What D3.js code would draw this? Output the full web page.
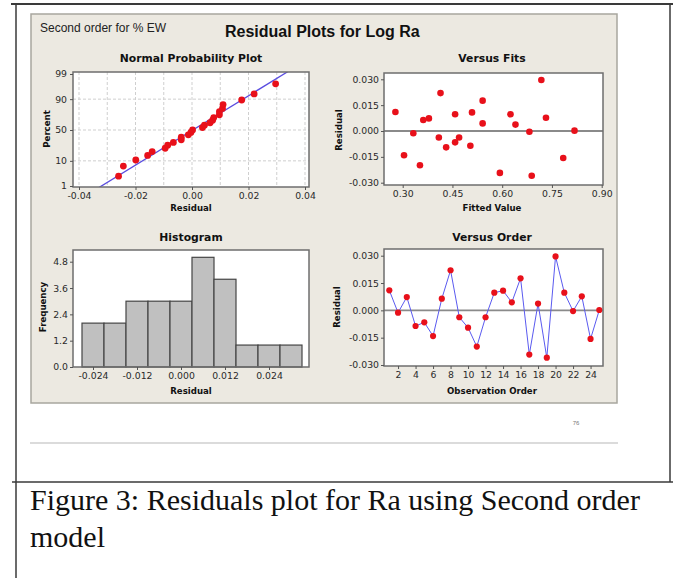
<!DOCTYPE html>
<html><head><meta charset="utf-8">
<script src="https://cdn.jsdelivr.net/npm/d3@7"></script>
<style>
html,body{margin:0;padding:0;background:#fff;}
svg{display:block;}
text{font-family:"Liberation Sans",Arial,sans-serif;}
</style></head>
<body>
<svg id="c" width="673" height="578"></svg>
<script>
// ---- data ----
const observation = d3.range(1, 26);
const residuals = [0.0110,-0.0013,0.0073,-0.0086,-0.0066,-0.0141,0.0064,0.0220,-0.0038,-0.0095,
                   -0.0199,-0.0038,0.0097,0.0108,0.0044,0.0176,-0.0243,0.0037,-0.0260,0.0296,
                   0.0097,-0.0004,0.0077,-0.0157,0.0002];
const fittedValues = [0.278,0.332,0.379,0.504,0.458,0.304,0.362,0.414,0.409,0.431,
                      0.352,0.470,0.458,0.509,0.541,0.541,0.593,0.640,0.689,0.718,
                      0.625,0.682,0.732,0.784,0.818];
const histMid = [-0.024,-0.018,-0.012,-0.006,0.000,0.006,0.012,0.018,0.024,0.030];
const histCount = [2,2,3,3,3,5,4,1,1,1];
const nppXTicks = [-0.04,-0.02,0.00,0.02,0.04];
const nppYTicks = [1,10,50,90,99];
const fitsXTicks = [0.30,0.45,0.60,0.75,0.90];
const resTicks = [-0.030,-0.015,0.000,0.015,0.030];
const histXTicks = [-0.024,-0.012,0.000,0.012,0.024];
const histYTicks = [0.0,1.2,2.4,3.6,4.8];
const orderTicks = [2,4,6,8,10,12,14,16,18,20,22,24];

// inverse normal CDF (Acklam)
function probit(p){
  const a=[-3.969683028665376e+01,2.209460984245205e+02,-2.759285104469687e+02,1.383577518672690e+02,-3.066479806614716e+01,2.506628277459239e+00];
  const b=[-5.447609879822406e+01,1.615858368580409e+02,-1.556989798598866e+02,6.680131188771972e+01,-1.328068155288572e+01];
  const c=[-7.784894002430293e-03,-3.223964580411365e-01,-2.400758277161838e+00,-2.549732539343734e+00,4.374664141464968e+00,2.938163982698783e+00];
  const d=[7.784695709041462e-03,3.224671290700398e-01,2.445134137142996e+00,3.754408661907416e+00];
  const pl=0.02425;
  let q,r;
  if(p<pl){q=Math.sqrt(-2*Math.log(p));return (((((c[0]*q+c[1])*q+c[2])*q+c[3])*q+c[4])*q+c[5])/((((d[0]*q+d[1])*q+d[2])*q+d[3])*q+1);}
  if(p>1-pl){q=Math.sqrt(-2*Math.log(1-p));return -(((((c[0]*q+c[1])*q+c[2])*q+c[3])*q+c[4])*q+c[5])/((((d[0]*q+d[1])*q+d[2])*q+d[3])*q+1);}
  q=p-0.5;r=q*q;
  return (((((a[0]*r+a[1])*r+a[2])*r+a[3])*r+a[4])*r+a[5])*q/(((((b[0]*r+b[1])*r+b[2])*r+b[3])*r+b[4])*r+1);
}

const fmtLocale = d3.formatLocale({decimal:".",thousands:",",grouping:[3],currency:["",""],minus:"-"});
const SANS = "DejaVu Sans, Verdana, sans-serif";
const svg = d3.select("#c");
svg.append("rect").attr("width",673).attr("height",578).attr("fill","#fff");

// page frame lines
const frame = svg.append("g").attr("stroke","#3a3a3a").attr("fill","none");
frame.append("line").attr("x1",11).attr("x2",673).attr("y1",4).attr("y2",4).attr("stroke-width",2);
frame.append("line").attr("x1",16).attr("x2",16).attr("y1",3).attr("y2",578).attr("stroke-width",1.5);
frame.append("line").attr("x1",670).attr("x2",670).attr("y1",3).attr("y2",482).attr("stroke-width",1.5);
frame.append("line").attr("x1",12).attr("x2",673).attr("y1",482).attr("y2",482).attr("stroke-width",1.5);

// Minitab panel
svg.append("rect").attr("x",31).attr("y",14).attr("width",586).attr("height",389)
  .attr("fill","#ece9e1").attr("stroke","#a8a69e").attr("stroke-width",1.5);

svg.append("text").attr("x",40).attr("y",32).attr("font-size",12).attr("fill","#222").text("Second order for % EW");
svg.append("text").attr("x",225).attr("y",37).attr("font-size",16).attr("font-weight","bold").attr("fill","#111").text("Residual Plots for Log Ra");

function panelTitle(x,y,t){
  svg.append("text").attr("x",x).attr("y",y).attr("text-anchor","middle").attr("font-size",10.8)
    .style("font-family",SANS).attr("font-weight","bold").attr("fill","#111").text(t);
}
function axisLabel(x,y,t,rot){
  const tx = svg.append("text").attr("text-anchor","middle").attr("font-size",8.6)
    .style("font-family",SANS).attr("font-weight","bold").attr("fill","#111").text(t);
  if(rot) tx.attr("transform",`translate(${x},${y}) rotate(-90)`); else tx.attr("x",x).attr("y",y);
}
function plotBox(x0,x1,y0,y1){
  svg.append("rect").attr("x",x0).attr("y",y0).attr("width",x1-x0).attr("height",y1-y0).attr("fill","#fff");
}
function boxBorder(x0,x1,y0,y1){
  svg.append("rect").attr("x",x0).attr("y",y0).attr("width",x1-x0).attr("height",y1-y0)
    .attr("fill","none").attr("stroke","#6e6e6e").attr("stroke-width",1.5);
}
function styleAxis(g){
  g.selectAll("path").remove();
  g.selectAll("line").attr("stroke","#555");
  g.selectAll("text").attr("font-size",9.3).attr("fill","#2a2a2a").style("font-family",SANS);
}

// ---------- Normal Probability Plot ----------
{
  const X0=73,X1=309,Y0=72,Y1=187;
  const x = d3.scaleLinear().domain([-0.04,0.04]).range([79,305]);
  const y = d3.scaleLinear().domain([probit(0.01),probit(0.99)]).range([186,74]);
  plotBox(X0,X1,Y0,Y1);
  const grid = svg.append("g").attr("stroke","#cfcfcf").attr("stroke-dasharray","3,2").attr("stroke-width",1);
  d3.range(-4,5).forEach(k=>{const v=k/100; grid.append("line").attr("x1",x(v)).attr("x2",x(v)).attr("y1",Y0).attr("y2",Y1);});
  [10,50,90].forEach(p=>grid.append("line").attr("x1",X0).attr("x2",X1).attr("y1",y(probit(p/100))).attr("y2",y(probit(p/100))));
  const clipId="nppclip";
  svg.append("clipPath").attr("id",clipId).append("rect").attr("x",X0).attr("y",Y0).attr("width",X1-X0).attr("height",Y1-Y0);
  const m = d3.mean(residuals), s = d3.deviation(residuals);
  const zs=[-3,3];
  svg.append("line").attr("clip-path",`url(#${clipId})`)
    .attr("x1",x(m+zs[0]*s)).attr("y1",y(zs[0])).attr("x2",x(m+zs[1]*s)).attr("y2",y(zs[1]))
    .attr("stroke","#5a4de0").attr("stroke-width",1.3);
  const sorted = residuals.slice().sort(d3.ascending);
  const n = sorted.length;
  svg.append("g").selectAll("circle").data(sorted).join("circle")
    .attr("cx",d=>x(d)).attr("cy",(d,i)=>y(probit((i+1-0.3)/(n+0.4)))).attr("r",3.4).attr("fill","#e8101a");
  boxBorder(X0,X1,Y0,Y1);
  styleAxis(svg.append("g").attr("transform",`translate(0,${Y1})`)
    .call(d3.axisBottom(x).tickValues(nppXTicks).tickFormat(fmtLocale.format(".2f")).tickSize(3).tickPadding(2)));
  styleAxis(svg.append("g").attr("transform",`translate(${X0},0)`)
    .call(d3.axisLeft(y).tickValues(nppYTicks.map(p=>probit(p/100))).tickFormat((d,i)=>nppYTicks[i]).tickSize(3).tickPadding(3)));
  panelTitle(191,62,"Normal Probability Plot");
  axisLabel(191,211,"Residual");
  axisLabel(50,129,"Percent",true);
}

// ---------- Versus Fits ----------
{
  const X0=384,X1=603,Y0=73,Y1=185;
  const x = d3.scaleLinear().domain([0.30,0.90]).range([402.7,601.7]);
  const y = d3.scaleLinear().domain([-0.03,0.03]).range([182.7,79.3]);
  plotBox(X0,X1,Y0,Y1);
  svg.append("line").attr("x1",X0).attr("x2",X1).attr("y1",y(0)).attr("y2",y(0)).attr("stroke","#8a8a8a").attr("stroke-width",1.8);
  svg.append("g").selectAll("circle").data(residuals).join("circle")
    .attr("cx",(d,i)=>x(fittedValues[i])).attr("cy",d=>y(d)).attr("r",3.3).attr("fill","#e8101a");
  boxBorder(X0,X1,Y0,Y1);
  styleAxis(svg.append("g").attr("transform",`translate(0,${Y1})`)
    .call(d3.axisBottom(x).tickValues(fitsXTicks).tickFormat(fmtLocale.format(".2f")).tickSize(3).tickPadding(2)));
  styleAxis(svg.append("g").attr("transform",`translate(${X0},0)`)
    .call(d3.axisLeft(y).tickValues(resTicks).tickFormat(fmtLocale.format(".3f")).tickSize(3).tickPadding(2)));
  panelTitle(492,62,"Versus Fits");
  axisLabel(492,211,"Fitted Value");
  axisLabel(342,130,"Residual",true);
}

// ---------- Histogram ----------
{
  const X0=73,X1=309,Y0=250,Y1=367;
  const x = d3.scaleLinear().domain([-0.024,0.024]).range([93,269]);
  const y = d3.scaleLinear().domain([0,4.8]).range([Y1,261.7]);
  plotBox(X0,X1,Y0,Y1);
  svg.append("g").selectAll("rect").data(histMid).join("rect")
    .attr("x",d=>x(d-0.003)).attr("width",d=>x(d+0.003)-x(d-0.003))
    .attr("y",(d,i)=>y(histCount[i])).attr("height",(d,i)=>y(0)-y(histCount[i]))
    .attr("fill","#c0c0c0").attr("stroke","#454545").attr("stroke-width",1.2);
  boxBorder(X0,X1,Y0,Y1);
  styleAxis(svg.append("g").attr("transform",`translate(0,${Y1})`)
    .call(d3.axisBottom(x).tickValues(histXTicks).tickFormat(fmtLocale.format(".3f")).tickSize(3).tickPadding(2)));
  styleAxis(svg.append("g").attr("transform",`translate(${X0},0)`)
    .call(d3.axisLeft(y).tickValues(histYTicks).tickFormat(fmtLocale.format(".1f")).tickSize(3).tickPadding(2)));
  panelTitle(191,241,"Histogram");
  axisLabel(191,394,"Residual");
  axisLabel(46,307,"Frequency",true);
}

// ---------- Versus Order ----------
{
  const X0=384,X1=603,Y0=249,Y1=366;
  const x = d3.scaleLinear().domain([1,25]).range([389.3,599.3]);
  const y = d3.scaleLinear().domain([-0.03,0.03]).range([365,255.7]);
  plotBox(X0,X1,Y0,Y1);
  svg.append("line").attr("x1",X0).attr("x2",X1).attr("y1",y(0)).attr("y2",y(0)).attr("stroke","#8a8a8a").attr("stroke-width",1.8);
  svg.append("path").datum(residuals)
    .attr("d",d3.line().x((d,i)=>x(observation[i])).y(d=>y(d)))
    .attr("fill","none").attr("stroke","#5a5af0").attr("stroke-width",1);
  svg.append("g").selectAll("circle").data(residuals).join("circle")
    .attr("cx",(d,i)=>x(observation[i])).attr("cy",d=>y(d)).attr("r",3.1).attr("fill","#e8101a");
  boxBorder(X0,X1,Y0,Y1);
  styleAxis(svg.append("g").attr("transform",`translate(0,${Y1})`)
    .call(d3.axisBottom(x).tickValues(orderTicks).tickFormat(fmtLocale.format("d")).tickSize(3).tickPadding(2)));
  styleAxis(svg.append("g").attr("transform",`translate(${X0},0)`)
    .call(d3.axisLeft(y).tickValues(resTicks).tickFormat(fmtLocale.format(".3f")).tickSize(3).tickPadding(2)));
  panelTitle(492,241,"Versus Order");
  axisLabel(492,394,"Observation Order");
  axisLabel(340,307,"Residual",true);
}

// page footer bits
svg.append("text").attr("x",576).attr("y",425).attr("text-anchor","middle").attr("font-size",6).attr("fill","#777").text("76");
svg.append("line").attr("x1",30).attr("x2",618).attr("y1",443).attr("y2",443).attr("stroke","#cfcfcf").attr("stroke-width",1.5);

// caption
const cap = svg.append("g").attr("font-size",30).attr("fill","#111");
cap.append("text").attr("x",30).attr("y",510).style("font-family","Liberation Serif, serif").text("Figure 3: Residuals plot for Ra using Second order");
cap.append("text").attr("x",30).attr("y",547).style("font-family","Liberation Serif, serif").text("model");
</script>
</body></html>
